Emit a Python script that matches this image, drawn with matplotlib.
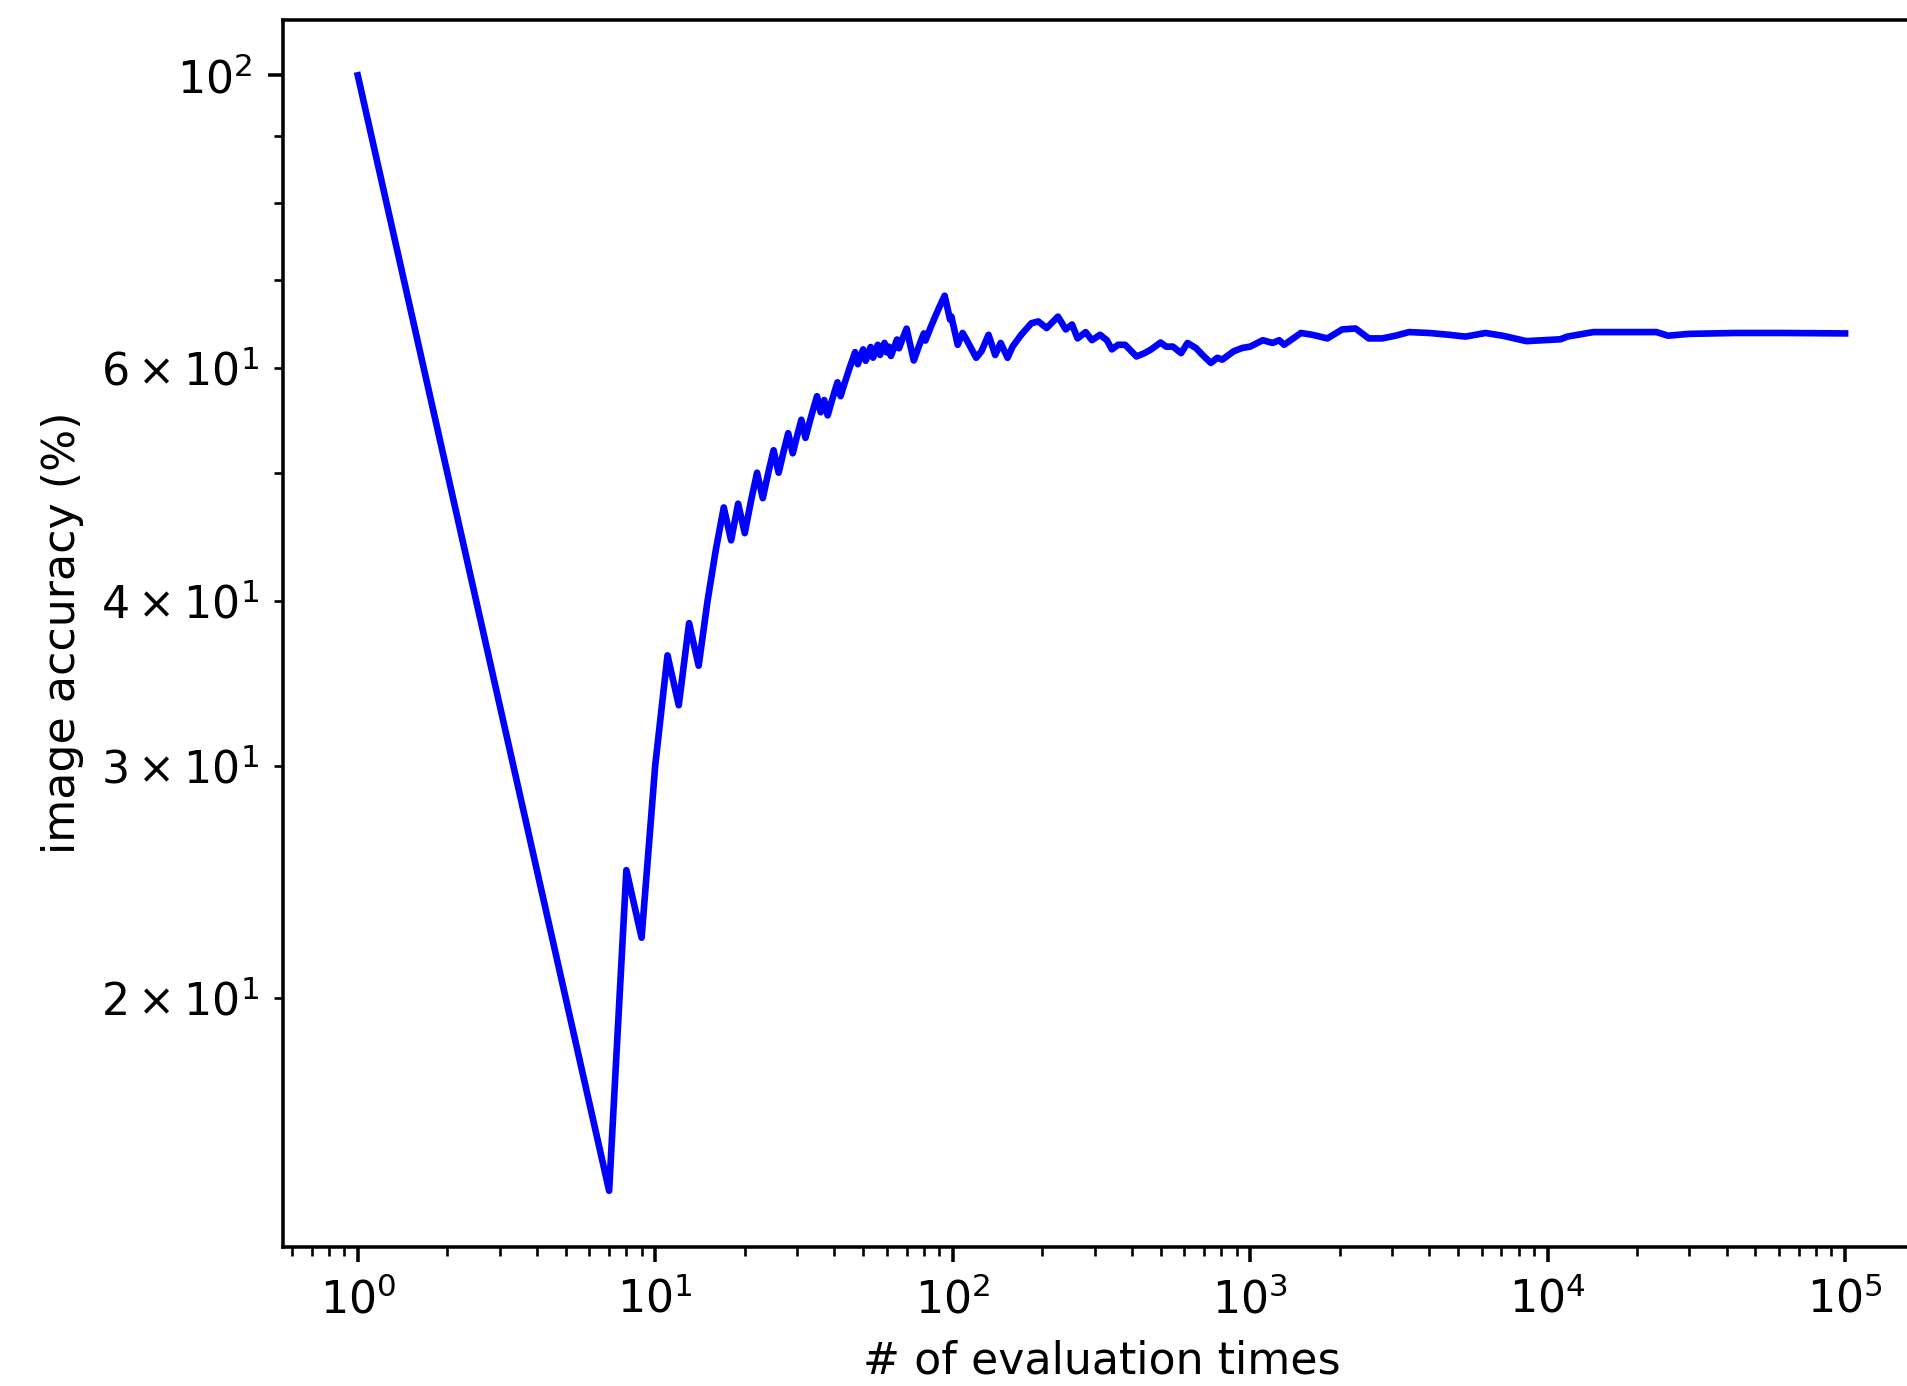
import matplotlib
matplotlib.use('Agg')
import matplotlib.pyplot as plt

eval_early = list(range(1, 105))
acc_early = [
    100.00, 50.00, 33.33, 25.00, 20.00, 16.67, 14.29, 25.00, 22.22, 30.00,
    36.36, 33.33, 38.46, 35.71, 40.00, 43.75, 47.06, 44.44, 47.37, 45.00,
    47.62, 50.00, 47.83, 50.00, 52.00, 50.00, 51.85, 53.57, 51.72, 53.33,
    54.84, 53.13, 54.55, 55.88, 57.14, 55.56, 56.76, 55.26, 56.41, 57.50,
    58.54, 57.14, 58.14, 59.09, 60.00, 60.87, 61.70, 60.42, 61.22, 62.00,
    60.78, 61.54, 62.26, 61.11, 61.82, 62.50, 61.40, 62.07, 62.71, 61.67,
    62.30, 61.29, 61.90, 62.50, 63.08, 62.12, 62.69, 63.24, 63.77, 64.29,
    63.38, 62.50, 61.64, 60.81, 61.33, 61.84, 62.34, 62.82, 63.29, 63.75,
    62.96, 63.41, 63.86, 64.29, 64.71, 65.12, 65.52, 65.91, 66.29, 66.67,
    67.03, 67.39, 67.74, 68.09, 67.37, 66.67, 65.98, 65.31, 65.66, 65.00,
    64.36, 63.73, 63.11, 62.50,
]

eval_late = [
    108, 112, 120, 125, 132, 139, 145, 153, 159, 170,
    184, 194, 207, 226, 240, 252, 263, 280, 294, 313,
    330, 343, 360, 380, 415, 442, 465, 500, 522, 550,
    586, 616, 657, 692, 738, 776, 806, 881, 940, 1000,
    1103, 1189, 1253, 1301, 1482, 1617, 1820, 2040, 2262, 2505,
    2781, 3084, 3420, 3993, 4657, 5297, 6184, 7054, 8487, 9686,
    11030, 11650, 13150, 14260, 17100, 23220, 25400, 29870, 43020, 62320,
    100000,
]
acc_late = [
    63.8, 62.9, 61.1, 61.8, 63.6, 61.4, 62.7, 61.1, 62.3, 63.6,
    64.9, 65.1, 64.35, 65.65, 64.2, 64.75, 63.2, 63.9, 63.0, 63.6,
    63.0, 62.0, 62.5, 62.5, 61.24, 61.6, 62.0, 62.75, 62.3, 62.3,
    61.6, 62.7, 62.15, 61.4, 60.55, 61.1, 60.9, 61.8, 62.15, 62.3,
    63.0, 62.7, 63.0, 62.5, 63.8, 63.6, 63.2, 64.2, 64.3, 63.2,
    63.2, 63.5, 63.9, 63.8, 63.6, 63.4, 63.8, 63.5, 62.9, 63.0,
    63.1, 63.4, 63.7, 63.9, 63.9, 63.9, 63.5, 63.7, 63.8, 63.8,
    63.75,
]

eval_times = eval_early + eval_late
accuracy = acc_early + acc_late

DPI = 318.75
fig = plt.figure(figsize=(1907 / DPI, 1386 / DPI), dpi=DPI)
ax = fig.add_axes([0.1486, 0.1006, 0.8579, 0.8853])
ax.loglog(eval_times, accuracy, color='b')
ax.set_xlabel('# of evaluation times')
ax.set_ylabel('image accuracy (%)')

fig.savefig('out.png', dpi=DPI)
